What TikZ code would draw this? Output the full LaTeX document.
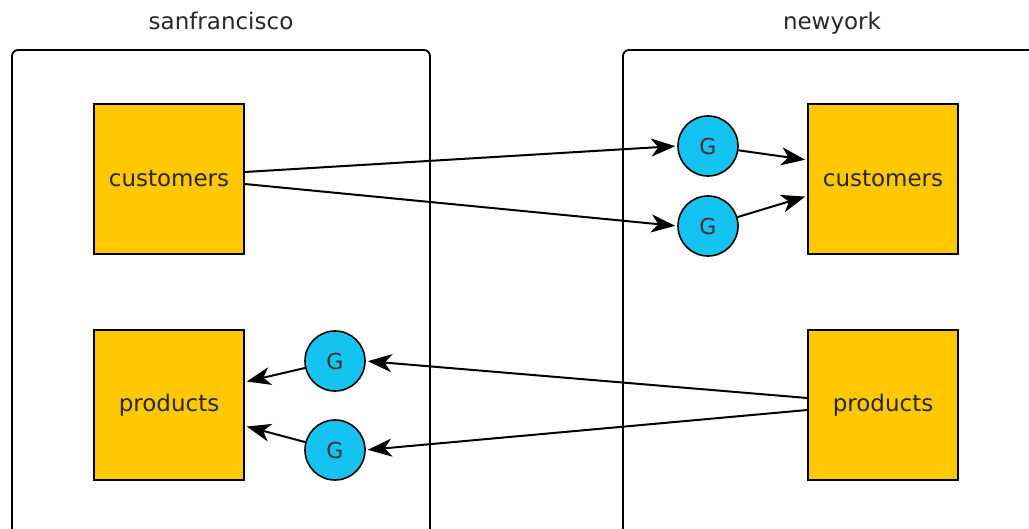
\documentclass[tikz,border=0pt]{standalone}
\usepackage{fontspec}
\setmainfont{DejaVu Sans}
\usetikzlibrary{arrows.meta}
\definecolor{boxyellow}{RGB}{255,200,0}
\definecolor{gcyan}{RGB}{20,195,240}
\definecolor{txt}{RGB}{40,40,40}
\tikzset{
  container/.style={draw=black, line width=1.8pt, rounded corners=6pt},
  table/.style={draw=black, line width=1.6pt, fill=boxyellow, minimum width=150pt, minimum height=150pt, inner sep=0pt, font=\fontsize{23}{27}\selectfont, text=txt},
  gnode/.style={circle, draw=black, line width=1.6pt, fill=gcyan, minimum size=60pt, inner sep=0pt, font=\fontsize{22}{26}\selectfont, text=black!80},
  title/.style={font=\fontsize{23}{27}\selectfont, text=txt, anchor=base},
  flow/.style={-{Stealth[length=24pt,width=18pt,inset=7pt]}, line width=2pt, shorten >=2pt}
}
\begin{document}
\begin{tikzpicture}[x=1pt,y=-1pt]
\useasboundingbox (0,0) rectangle (1029,529);
\begin{scope}
\clip (0,0) rectangle (1029,529);
\draw[container] (12,50) rectangle (430,545);
\draw[container] (623,50) rectangle (1045,545);
\end{scope}
\node[title] (t1) at (221,30) {sanfrancisco};
\node[title] (t2) at (832,30) {newyork};
\node[table] (lc) at (169,179) {customers};
\node[table] (lp) at (169,405) {products};
\node[table] (rc) at (883,179) {customers};
\node[table] (rp) at (883,405) {products};
\node[gnode] (g1) at (708,146) {G};
\node[gnode] (g2) at (708,226) {G};
\node[gnode] (g3) at (335,361) {G};
\node[gnode] (g4) at (335,450) {G};
\draw[flow] ([yshift=7pt]lc.east) -- (g1.west);
\draw[flow] ([yshift=-5pt]lc.east) -- (g2.west);
\draw[flow] (g1) -- ([yshift=19pt]rc.west);
\draw[flow] (g2) -- ([yshift=-17pt]rc.west);
\draw[flow] ([yshift=7pt]rp.west) -- (g3.east);
\draw[flow] ([yshift=-5pt]rp.west) -- (g4.east);
\draw[flow] (g3) -- ([yshift=23pt]lp.east);
\draw[flow] (g4) -- ([yshift=-21pt]lp.east);
\end{tikzpicture}
\end{document}
